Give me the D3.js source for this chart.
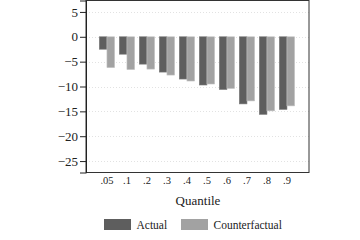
<!DOCTYPE html>
<html>
<head>
<meta charset="utf-8">
<script src="https://cdn.jsdelivr.net/npm/d3@7"></script>
<style>
  body { margin: 0; background: #fff; }
  svg { display: block; font-family: "Liberation Serif", "DejaVu Serif", serif; }
</style>
</head>
<body>
<svg id="chart" width="360" height="240"></svg>
<script>
const quantiles = [".05", ".1", ".2", ".3", ".4", ".5", ".6", ".7", ".8", ".9"];
const actual = [-2.5, -3.5, -5.5, -7.1, -8.5, -9.7, -10.6, -13.5, -15.6, -14.6];
const counterfactual = [-6.2, -6.6, -6.5, -7.7, -8.9, -9.5, -10.4, -12.9, -14.9, -13.9];
const yTicks = [5, 0, -5, -10, -15, -20, -25];
const seriesNames = ["Actual", "Counterfactual"];

const plotLeft = 86, plotRight = 309, plotTop = 0.5, plotBottom = 172.5;
const darkColor = "#5e5e5e", lightColor = "#a2a2a2";

const svg = d3.select("#chart");

const y = d3.scaleLinear().domain([-27.3, 7.3]).range([plotBottom, plotTop]);
const x = d3.scaleBand().domain(quantiles).range([99.3, 294.6]).paddingInner(0.235).paddingOuter(0);
const xs = d3.scaleBand().domain(seriesNames).range([0, x.bandwidth()]);

// gridlines
svg.append("g")
  .selectAll("line")
  .data(yTicks)
  .enter()
  .append("line")
  .attr("x1", plotLeft)
  .attr("x2", plotRight)
  .attr("y1", d => Math.round(y(d)) + 0.5)
  .attr("y2", d => Math.round(y(d)) + 0.5)
  .attr("stroke", "#e2e2e2")
  .attr("stroke-width", 1)
  .attr("stroke-dasharray", "1,2");

// bars
const groups = svg.append("g")
  .selectAll("g")
  .data(quantiles)
  .enter()
  .append("g")
  .attr("transform", d => "translate(" + x(d) + ",0)");

groups.append("rect")
  .attr("x", xs("Actual"))
  .attr("y", y(0))
  .attr("width", xs.bandwidth())
  .attr("height", (d, i) => y(actual[i]) - y(0))
  .attr("fill", darkColor)
  .attr("stroke", "#7a7a7a")
  .attr("stroke-width", 0.6);

groups.append("rect")
  .attr("x", xs("Counterfactual"))
  .attr("y", y(0))
  .attr("width", xs.bandwidth())
  .attr("height", (d, i) => y(counterfactual[i]) - y(0))
  .attr("fill", lightColor)
  .attr("stroke", "#c4c4c4")
  .attr("stroke-width", 0.6);

// frame
svg.append("rect")
  .attr("x", plotLeft)
  .attr("y", plotTop)
  .attr("width", plotRight - plotLeft)
  .attr("height", plotBottom - plotTop)
  .attr("fill", "none")
  .attr("stroke", "#333")
  .attr("stroke-width", 1);

// y axis
const yAxis = d3.axisLeft(y)
  .tickValues(yTicks)
  .tickSize(6)
  .tickPadding(2)
  .tickFormat(d => d < 0 ? "\u2212" + Math.abs(d) : d);

svg.append("g")
  .attr("transform", "translate(" + plotLeft + ",0)")
  .call(yAxis)
  .call(g => g.select(".domain").attr("stroke", "#222"))
  .call(g => g.selectAll(".tick line").attr("stroke", "#222"))
  .call(g => g.selectAll("text")
    .attr("font-family", "Liberation Serif, serif")
    .attr("font-size", 13)
    .attr("fill", "#222"));

// x axis labels
const xAxis = d3.axisBottom(x).tickSize(0).tickPadding(4);
svg.append("g")
  .attr("transform", "translate(0," + plotBottom + ")")
  .call(xAxis)
  .call(g => g.select(".domain").remove())
  .call(g => g.selectAll("text")
    .attr("font-family", "Liberation Serif, serif")
    .attr("font-size", 10.5)
    .attr("fill", "#222"));

svg.append("text")
  .attr("x", (plotLeft + plotRight) / 2 + 0.5)
  .attr("y", 204.5)
  .attr("text-anchor", "middle")
  .attr("font-size", 13)
  .attr("fill", "#222")
  .text("Quantile");

// legend
const legend = [
  { name: "Actual", color: darkColor, x: 104 },
  { name: "Counterfactual", color: lightColor, x: 181 }
];
const lg = svg.append("g")
  .selectAll("g")
  .data(legend)
  .enter()
  .append("g")
  .attr("transform", d => "translate(" + d.x + ",219)");

lg.append("rect")
  .attr("width", 27)
  .attr("height", 11)
  .attr("fill", d => d.color);

lg.append("text")
  .attr("x", 32.5)
  .attr("y", 10.3)
  .attr("font-size", 11.5)
  .attr("fill", "#222")
  .text(d => d.name);
</script>
</body>
</html>
